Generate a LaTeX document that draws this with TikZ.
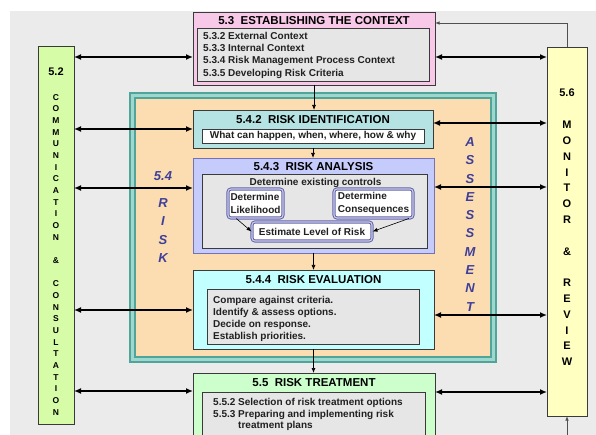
\documentclass[tikz,border=0pt]{standalone}
\usepackage{fontspec}
\setmainfont{Liberation Sans}
\usetikzlibrary{arrows.meta}

\definecolor{bggray}{HTML}{EBEBEB}
\definecolor{ctxpink}{HTML}{F8C8E8}
\definecolor{innergray}{HTML}{E6E6E6}
\definecolor{boxline}{HTML}{3A3A3A}
\definecolor{commgreen}{HTML}{D6FCA8}
\definecolor{monyellow}{HTML}{FFFFC2}
\definecolor{peach}{HTML}{FCDDB2}
\definecolor{tealline}{HTML}{4FA59A}
\definecolor{tealband}{HTML}{9FD6CE}
\definecolor{idcyan}{HTML}{B5E2E2}
\definecolor{analav}{HTML}{C5CBFA}
\definecolor{anaborder}{HTML}{7272B8}
\definecolor{evalcyan}{HTML}{C2FFFF}
\definecolor{treatgreen}{HTML}{CCFFCC}
\definecolor{subline}{HTML}{6464A8}
\definecolor{subgap}{HTML}{CCCCEE}
\definecolor{labelblue}{HTML}{3F3F99}
\definecolor{bodytext}{HTML}{202020}
\definecolor{fbgray}{HTML}{505050}

\tikzset{
  box/.style={draw=boxline, line width=0.8pt, inner sep=0pt, outer sep=0pt},
  title/.style={font=\fontsize{11.5}{13}\selectfont\bfseries, inner sep=0pt, text=black},
  bodyfont/.style={font=\fontsize{10}{12.2}\selectfont\bfseries, text=bodytext},
  body/.style={bodyfont, align=left, inner sep=0pt, anchor=north west},
  subbox/.style={draw=subline, double=subgap, double distance=1.1pt, line width=1pt,
    rounded corners=3pt, fill=white, inner sep=0pt, align=left, bodyfont,
    font=\fontsize{10}{12.6}\selectfont\bfseries},
  vsmall/.style={font=\fontsize{8.5}{11.67}\selectfont\bfseries, align=center, inner sep=0pt, anchor=north},
  vlarge/.style={font=\fontsize{11}{15.8}\selectfont\bfseries, align=center, inner sep=0pt, anchor=north},
  risklbl/.style={font=\fontsize{13}{18.3}\selectfont\bfseries\itshape, text=labelblue, align=center, inner sep=0pt},
  link/.style={{Latex[length=7pt,width=6pt]}-{Latex[length=7pt,width=6pt]}, line width=1.8pt},
  flow/.style={-{Latex[length=5pt,width=4pt]}, line width=0.7pt},
  thinflow/.style={-{Latex[length=5pt,width=4pt]}, line width=0.6pt},
  fb/.style={-{Latex[length=4.5pt,width=3.5pt]}, line width=0.8pt, draw=fbgray}
}

\begin{document}
\begin{tikzpicture}[x=1pt,y=-1pt]
\useasboundingbox (0,0) rectangle (596,435);
\clip (0,0) rectangle (596,435);

% backdrop
\fill[bggray] (10,11) rectangle (596,435);

% 5.3 establishing the context
\node[box, fill=ctxpink, minimum width=242pt, minimum height=73pt] (ctx) at (314,48.5) {};
\node[title] (ctxT) at (314,21) {5.3\ \ ESTABLISHING THE CONTEXT};
\node[box, fill=innergray, minimum width=232pt, minimum height=53pt] (ctxI) at (313,54.5) {};
\node[body] (ctxB) at (203,32.1) {5.3.2 External Context\\5.3.3 Internal Context\\5.3.4 Risk Management Process Context\\5.3.5 Developing Risk Criteria};

% 5.4 risk assessment frame
\node[draw=tealline, line width=1.2pt, fill=tealband, minimum width=366pt, minimum height=269pt, inner sep=0pt] (frame) at (313,227.5) {};
\node[draw=tealline, line width=1.2pt, fill=peach, minimum width=356pt, minimum height=259pt, inner sep=0pt] (assess) at (313,227.5) {};

\node[risklbl] (rlNum) at (163,176) {5.4};
\node[risklbl, anchor=north] (rlWord) at (163,198.4) {R\\I\\S\\K};
\node[risklbl, anchor=north] (asWord) at (470,137.3) {A\\S\\S\\E\\S\\S\\M\\E\\N\\T};

% 5.4.2 risk identification
\node[box, fill=idcyan, minimum width=240pt, minimum height=38pt] (ident) at (313,129) {};
\node[title] (identT) at (313,120) {5.4.2\ \ RISK IDENTIFICATION};
\node[box, fill=white, minimum width=222pt, minimum height=14pt, bodyfont] (identI) at (313,136) {What can happen, when, where, how \& why};

% 5.4.3 risk analysis
\node[box, draw=anaborder, fill=analav, minimum width=241pt, minimum height=95pt] (anal) at (313.5,205.5) {};
\node[title] (analT) at (313.5,167) {5.4.3\ \ RISK ANALYSIS};
\node[box, fill=innergray, minimum width=225pt, minimum height=74pt] (analI) at (314.5,211) {};
\node[bodyfont, inner sep=0pt] (ctrl) at (315.5,183) {Determine existing controls};
\node[subbox, minimum width=55pt, minimum height=29pt] (lik) at (255.5,203.5) {Determine\\Likelihood};
\node[subbox, minimum width=79pt, minimum height=29pt] (cons) at (373.5,203.5) {Determine\\Consequences};
\node[subbox, minimum width=120pt, minimum height=19pt] (est) at (312,231.5) {Estimate Level of Risk};
\draw[thinflow] (lik.218) -- (est.west);
\draw[thinflow] (cons.337) -- (est.east);

% 5.4.4 risk evaluation
\node[box, fill=evalcyan, minimum width=241pt, minimum height=79pt] (eval) at (313.5,309.5) {};
\node[title] (evalT) at (313.5,280) {5.4.4\ \ RISK EVALUATION};
\node[box, fill=innergray, minimum width=212pt, minimum height=55pt] (evalI) at (313,316.5) {};
\node[body, font=\fontsize{10}{12}\selectfont\bfseries] (evalB) at (213,296.4) {Compare against criteria.\\Identify \& assess options.\\Decide on response.\\Establish priorities.};

% 5.5 risk treatment
\node[box, fill=treatgreen, minimum width=242pt, minimum height=80pt] (treat) at (314,413) {};
\node[title] (treatT) at (314,383) {5.5\ \ RISK TREATMENT};
\node[box, fill=innergray, minimum width=223pt, minimum height=60pt] (treatI) at (313.5,422) {};
\node[body, font=\fontsize{10}{11.7}\selectfont\bfseries] (treatB) at (213,398) {5.5.2 Selection of risk treatment options\\5.5.3 Preparing and implementing risk\\\hphantom{5.5.3\ }treatment plans};

% 5.2 communication and consultation
\node[box, fill=commgreen, minimum width=36pt, minimum height=378pt] (comm) at (56,235) {};
\node[font=\fontsize{11}{13}\selectfont\bfseries, inner sep=0pt] (commN) at (56,72) {5.2};
\node[vsmall] (commL) at (56,94) {C\\O\\M\\M\\U\\N\\I\\C\\A\\T\\I\\O\\N\\[11.67pt]\&\\[11.67pt]C\\O\\N\\S\\U\\L\\T\\A\\T\\I\\O\\N};

% 5.6 monitor and review
\node[box, fill=monyellow, minimum width=40pt, minimum height=369pt] (mon) at (567,231.5) {};
\node[font=\fontsize{11}{13}\selectfont\bfseries, inner sep=0pt] (monN) at (567,93) {5.6};
\node[vlarge] (monL) at (567,121) {M\\O\\N\\I\\T\\O\\R\\[15.8pt]\&\\[15.8pt]R\\E\\V\\I\\E\\W};

% process flow down the middle
\draw[flow] (ctx.south) -- (ctx.south |- ident.north);
\draw[flow] (ident.south) -- (ident.south |- anal.north);
\draw[flow] (anal.south) -- (anal.south |- eval.north);
\draw[flow] (eval.south) -- (eval.south |- treat.north);

% two-way links to communication (left) and monitoring (right)
\coordinate (lA) at (0,57);   \coordinate (rA) at (0,57);
\coordinate (lB) at (0,129);  \coordinate (rB) at (0,123);
\coordinate (lC) at (0,188);  \coordinate (rC) at (0,187);
\coordinate (lD) at (0,310);  \coordinate (rD) at (0,315);
\coordinate (lE) at (0,391);  \coordinate (rE) at (0,392);
\draw[link] (comm.east |- lA) -- (ctx.west |- lA);
\draw[link] (comm.east |- lB) -- (ident.west |- lB);
\draw[link] (comm.east |- lC) -- (anal.west |- lC);
\draw[link] (comm.east |- lD) -- (eval.west |- lD);
\draw[link] (comm.east |- lE) -- (treat.west |- lE);
\draw[link] (ctx.east |- rA) -- (mon.west |- rA);
\draw[link] (ident.east |- rB) -- (mon.west |- rB);
\draw[link] (anal.east |- rC) -- (mon.west |- rC);
\draw[link] (eval.east |- rD) -- (mon.west |- rD);
\draw[link] (treat.east |- rE) -- (mon.west |- rE);

% feedback loop from monitoring
\coordinate (fbTop) at (0,23);
\coordinate (fbIn) at (567,440);
\draw[fb] (mon.north) |- (ctx.east |- fbTop);
\draw[fb] (fbIn) -- (mon.south);
\end{tikzpicture}
\end{document}
